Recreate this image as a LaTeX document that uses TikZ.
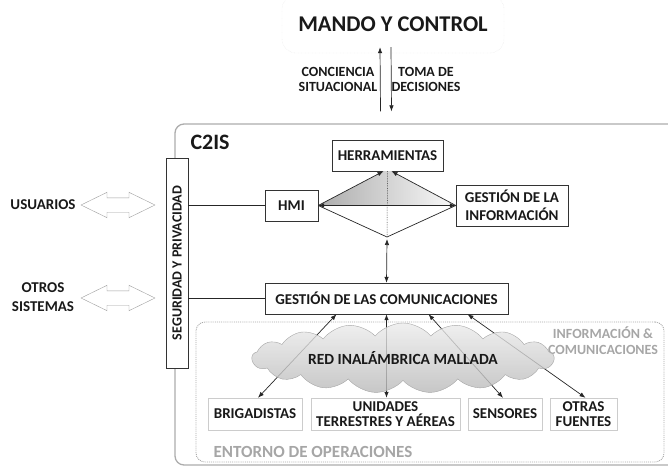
\documentclass[tikz,border=0pt]{standalone}
\usepackage{fontspec}
\setmainfont{Carlito}
\usetikzlibrary{positioning,shapes.symbols,shapes.arrows,arrows.meta}

\tikzset{
  block/.style={draw=black!80, fill=white, font=\bfseries\fontsize{15}{17}\selectfont, text=black!90,
    minimum height=31pt, inner xsep=5pt, inner ysep=2pt, align=center},
  subblock/.style={block, draw=gray!40, minimum height=32pt},
  tag/.style={font=\bfseries\fontsize{15}{17}\selectfont, text=black!90, align=center},
  greytag/.style={tag, text=gray!70},
  io/.style={double arrow, draw=gray!75, fill=white, minimum height=74pt, inner xsep=0pt, inner ysep=7pt,
    double arrow head extend=5.5pt, double arrow tip angle=52},
  link/.style={black!85, line width=0.7pt},
}

\begin{document}
\begin{tikzpicture}[x=1pt,y=-1pt,>={Latex[length=6pt,width=4.5pt]}]
  \useasboundingbox (0,0) rectangle (668,466);

  \node[draw=gray!25, densely dotted, rounded corners=14pt, minimum width=222pt, minimum height=58pt,
    font=\bfseries\fontsize{22.5}{24}\selectfont, text=black!90] (mando) at (393,24) {MANDO Y CONTROL};
  \node[tag, font=\bfseries\fontsize{14}{15}\selectfont] (conciencia) at (338,79) {CONCIENCIA\\SITUACIONAL};
  \node[tag, font=\bfseries\fontsize{14}{15}\selectfont] (toma) at (426,79) {TOMA DE\\DECISIONES};

  % C2IS frame
  \node[draw=gray!65, line width=1.3pt, rounded corners=9pt, minimum width=525pt, minimum height=341pt] (c2is) at (437.5,294.5) {};
  \node[tag, font=\bfseries\fontsize{22}{24}\selectfont, anchor=west] (c2is_name) at (187,142) {C2IS};
  \draw[link,->] ([xshift=-57pt,yshift=12pt]c2is.north) -- ([xshift=-13pt,yshift=6pt]mando.south);
  \draw[link,<-] ([xshift=-46pt,yshift=12pt]c2is.north) -- ([xshift=-2pt,yshift=6pt]mando.south);

  % entorno
  \node[draw=gray!70, densely dotted, line width=0.9pt, rounded corners=9pt, minimum width=468pt, minimum height=140pt] (entorno) at (430,392) {};
  \node[greytag, font=\bfseries\fontsize{17}{19}\selectfont, anchor=west] (entorno_name) at (210,452) {ENTORNO DE OPERACIONES};
  \node[greytag, font=\bfseries\fontsize{14}{16}\selectfont] (infocom) at (603,341) {INFORMACI\'ON \&\\COMUNICACIONES};

  \node[block, rotate=90, minimum width=210pt, minimum height=22pt, inner sep=0pt, font=\bfseries\fontsize{14}{16}\selectfont] (seguridad) at (177,263) {SEGURIDAD Y PRIVACIDAD};

  \node[block, minimum width=111pt] (herramientas) at (387.5,155.5) {HERRAMIENTAS};
  \node[block, minimum width=53pt] (hmi) at (291.5,205.5) {HMI};
  \node[block, minimum width=112pt, minimum height=41pt, font=\bfseries\fontsize{15}{18}\selectfont] (gest_info) at (512,205.5) {GESTI\'ON DE LA\\INFORMACI\'ON};
  \coordinate (diamond_bottom) at (387,237);
  \node[block, minimum width=243pt] (comms) at (386.5,298.5) {GESTI\'ON DE LAS COMUNICACIONES};

  % diamond
  \shade[left color=gray!65, right color=gray!4] (hmi.east) -- ([xshift=-4pt]herramientas.south) -- ([xshift=4pt]herramientas.south) -- (gest_info.west) -- cycle;
  \draw[link,<->] (hmi.east) -- (gest_info.west);
  \draw[link,->] (hmi.east) -- ([xshift=-4pt]herramientas.south);
  \draw[link,->] (gest_info.west) -- ([xshift=4pt]herramientas.south);
  \draw[link] (hmi.east) -- (diamond_bottom) -- (gest_info.west);
  \draw[link, densely dotted, line width=0.5pt] (herramientas.south) -- (diamond_bottom);
  \draw[link,<->] ([yshift=-2pt]diamond_bottom) -- (comms.north);

  \draw[link] (hmi.west -| seguridad.south) -- (hmi.west);
  \draw[link] (comms.west -| seguridad.south) -- (comms.west);

  % outside
  \node[tag] (usuarios) at (43,205) {USUARIOS};
  \node[io] (usuarios_io) at (118,205) {};
  \node[tag, font=\bfseries\fontsize{15}{19}\selectfont] (otros) at (43,297) {OTROS\\SISTEMAS};
  \node[io] (otros_io) at (118,298) {};

  % operaciones
  \node[subblock, minimum width=94pt] (brigadistas) at (255,414) {BRIGADISTAS};
  \node[subblock, minimum width=147pt, font=\bfseries\fontsize{15}{15}\selectfont] (unidades) at (385.5,414) {UNIDADES\\TERRESTRES Y A\'EREAS};
  \node[subblock, minimum width=74pt] (sensores) at (505,414) {SENSORES};
  \node[subblock, minimum width=67pt, font=\bfseries\fontsize{15}{15}\selectfont] (otras) at (583.5,414) {OTRAS\\FUENTES};

  \draw[link,<->] ([xshift=-50pt]comms.south) -- ([xshift=3pt]brigadistas.north);
  \draw[link,<->] (comms.south) -- (comms.south |- unidades.north);
  \draw[link,<->] ([xshift=42pt]comms.south) -- ([xshift=-2pt]sensores.north);
  \draw[link,<->] ([xshift=81pt]comms.south) -- ([xshift=2pt]otras.north);

  \node[cloud, cloud puffs=17, cloud puff arc=100, cloud ignores aspect, draw=gray!70, top color=gray!15, bottom color=gray!55,
    fill opacity=0.8, minimum width=302pt, minimum height=70pt] (red) at (403,358) {};
  \node[tag, font=\bfseries\fontsize{15.5}{17}\selectfont] (red_name) at (red) {RED INAL\'AMBRICA MALLADA};
\end{tikzpicture}
\end{document}
